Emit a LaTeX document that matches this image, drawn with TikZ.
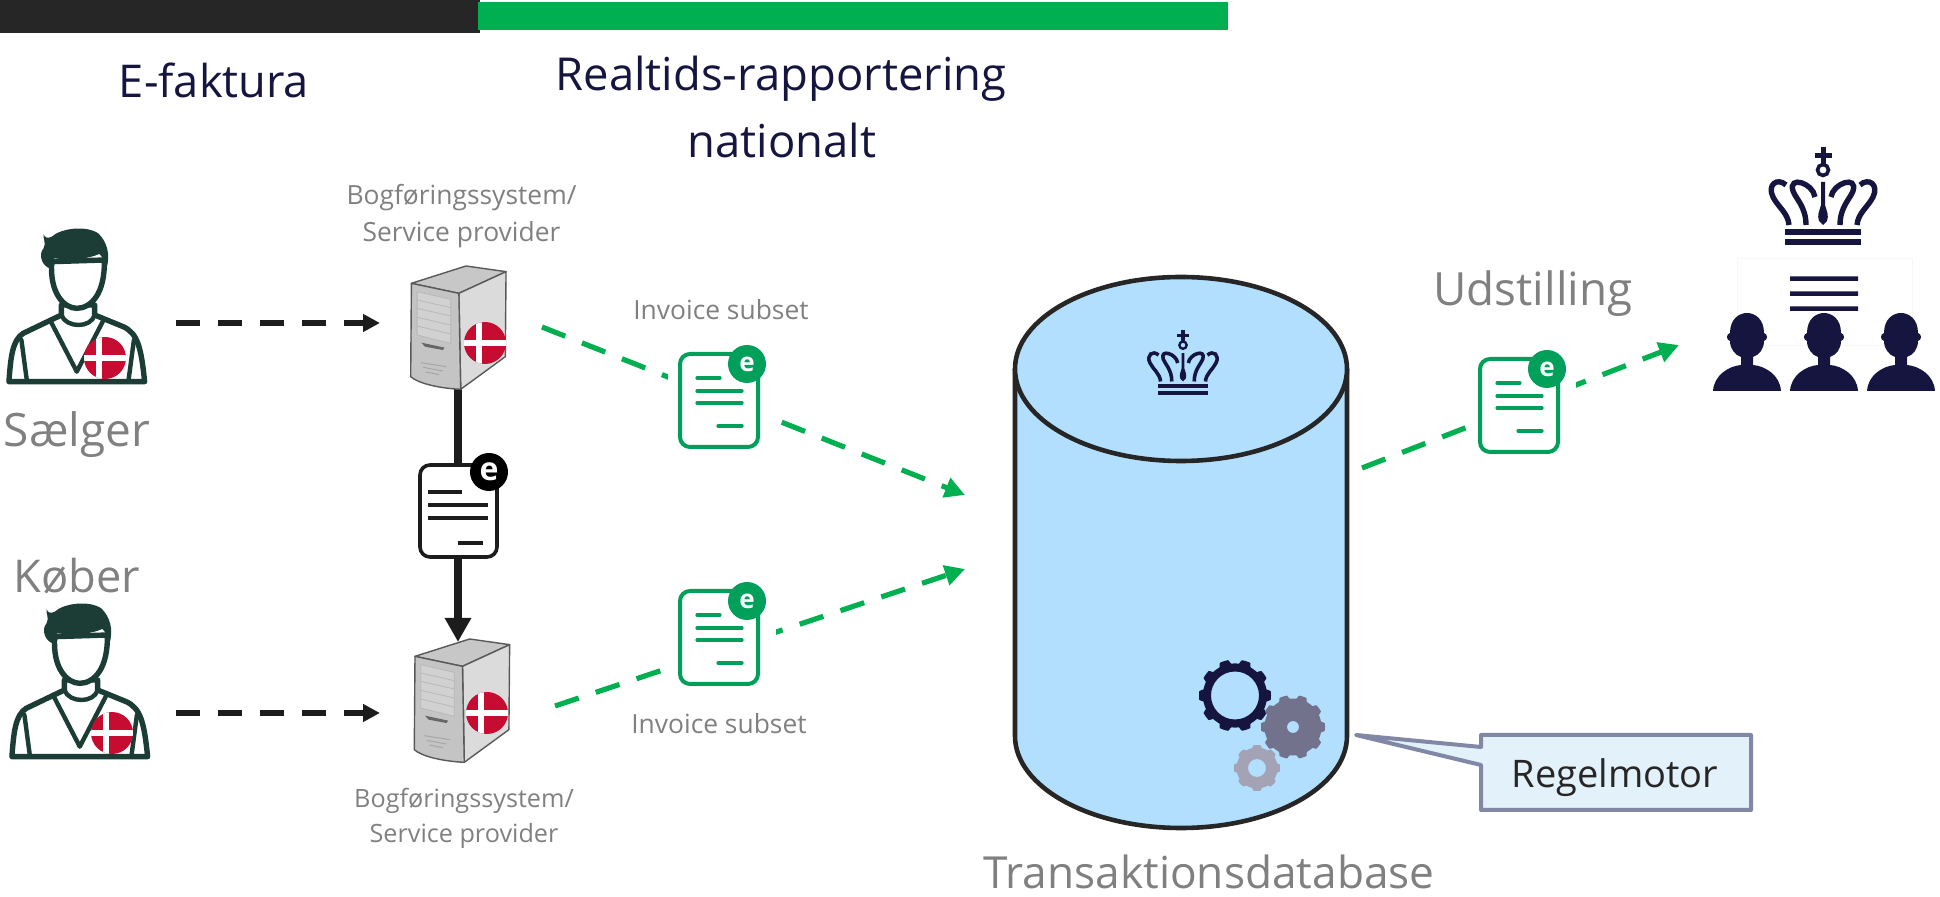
\documentclass[tikz,border=0pt]{standalone}
\usepackage{fontspec}
\setmainfont{Open Sans}
\usetikzlibrary{arrows.meta}
\definecolor{navy}{HTML}{15153F}
\definecolor{lab}{HTML}{808080}
\definecolor{barblack}{HTML}{262626}
\definecolor{arrblack}{HTML}{1C1C1C}
\definecolor{bargreen}{HTML}{00B050}
\definecolor{docgreen}{HTML}{00A05A}
\definecolor{persgreen}{HTML}{1B3D35}
\definecolor{dkred}{HTML}{C60C30}
\definecolor{cyl}{HTML}{B3DFFF}
\definecolor{cally}{HTML}{E3F1FB}
\definecolor{callb}{HTML}{8088A5}
\definecolor{gearmid}{HTML}{72728C}
\definecolor{gearlight}{HTML}{A3A3B5}
\tikzset{
  x=0.5pt,y=-0.5pt,
  big/.style={font=\fontsize{#1}{#1}\selectfont,inner sep=0pt,anchor=center},
  greendash/.style={draw=bargreen,line width=2.6pt,dash pattern=on 12.5pt off 9pt,-{Triangle[length=10pt,width=10pt]}},
  blackdash/.style={draw=arrblack,line width=2.7pt,dash pattern=on 12pt off 9pt,-{Triangle[length=8.5pt,width=8.5pt]}},
}
\newcommand\flagicon[2]{%
  \begin{scope}
    \clip (#1,#2) circle[radius=21];
    \fill[dkred] (#1-22,#2-22) rectangle (#1+22,#2+22);
    \fill[white] (#1-22,#2-2.8) rectangle (#1+22,#2+2.8);
    \fill[white] (#1-9,#2-22) rectangle (#1-3.5,#2+22);
  \end{scope}}
\newcommand\persicon[2]{%
  \begin{scope}[shift={(#1,180+#2)},xscale=1/2.8,yscale=1/3]
    \draw[persgreen,line width=2.7pt,line join=round,fill=white]
      (25,605) .. controls (30,530) and (35,480) .. (65,460)
      -- (172,405) -- (172,375) -- (265,375) -- (265,405)
      -- (345,440) .. controls (385,460) and (395,500) .. (405,605) -- cycle;
    \draw[persgreen,line width=2.7pt,fill=white]
      (145,245) .. controls (138,340) and (180,385) .. (215,385)
      .. controls (255,385) and (295,340) .. (292,240) -- cycle;
    \draw[persgreen,line width=2.2pt,line join=round,line cap=round]
      (140,420) -- (215,575) -- (290,420)
      (172,405) .. controls (185,445) and (255,445) .. (265,405)
      (60,480) -- (75,600) (375,480) -- (360,600);
    \fill[persgreen] (122,162) .. controls (125,175) and (135,175) .. (145,170)
      .. controls (170,145) and (240,135) .. (275,160)
      .. controls (300,185) and (310,225) .. (298,265)
      .. controls (292,240) and (285,228) .. (278,222)
      .. controls (240,240) and (190,240) .. (152,235)
      .. controls (145,245) and (143,255) .. (140,265)
      .. controls (120,260) and (105,225) .. (122,205)
      .. controls (130,190) and (120,175) .. (122,162) -- cycle;
  \end{scope}}
\newcommand\servicon[2]{%
  \begin{scope}[shift={(#1,180+#2)},xscale=1/2.8,yscale=1/3]
    \draw[black!65,line width=0.7pt,line join=round,fill=black!22]
      (1152,310) -- (1305,258) -- (1417,275) -- (1285,340) -- cycle;
    \draw[black!65,line width=0.7pt,line join=round,fill=black!14]
      (1285,340) -- (1417,275) -- (1415,530) -- (1290,628) -- cycle;
    \draw[black!65,line width=0.7pt,line join=round,fill=black!23]
      (1152,310) -- (1285,340) -- (1290,628) .. controls (1230,625) and (1170,610) .. (1150,590) -- cycle;
    \draw[black!28,line width=0.4pt,fill=black!18]
      (1168,335) -- (1262,358) -- (1262,490) -- (1168,465) -- cycle;
    \draw[black!28,line width=0.4pt]
      (1168,360) -- (1262,383) (1168,385) -- (1262,408) (1168,412) -- (1262,435) (1168,438) -- (1262,462);
    \fill[black!60] (1180,488) -- (1245,503) -- (1240,510) -- (1190,500) -- cycle;
    \draw[black!35,line width=0.5pt]
      (1178,548) -- (1250,560) (1185,562) -- (1240,573) (1192,576) -- (1230,584);
  \end{scope}}
\newcommand\gdoc[3]{%
  \fill[white] (#2-12,#3-8) rectangle (#2+96,#3+104);
  \begin{scope}[shift={(#2,#3)}]
    \draw[docgreen,line width=2pt,fill=white,rounded corners=5pt] (0,0) rectangle (78,93);
    \draw[docgreen,line width=1.6pt,line cap=round] (17,24) -- (40,24) (17,37) -- (62,37) (17,49) -- (62,49) (38,72) -- (62,72);
    \node[circle,fill=docgreen,text=white,minimum size=19pt,inner sep=0pt,font=\fontsize{13}{13}\selectfont\bfseries] (#1) at (67,10) {e};
  \end{scope}}
\newcommand\crownicon[4]{% x,y,scale,colour
  \begin{scope}[shift={(#1,#2)},scale=#3]
    \fill[#4] (-2.5,0) rectangle (2.5,17);
    \fill[#4] (-8.5,6) rectangle (8.5,11);
    \draw[#4,line width={#3*1.8pt}] (0,23) circle[radius=5.5];
    \fill[#4] (-2,35) -- (2,35) -- (2,58) .. controls (4,65) and (6,68) .. (4,74) -- (0,78) -- (-4,74) .. controls (-6,68) and (-4,65) .. (-2,58) -- cycle;
    \foreach \s in {1,-1}{
      \draw[#4,line width={#3*2.7pt}]
        (\s*8,50) .. controls (\s*10,36) and (\s*35,28) .. (\s*30,44)
        .. controls (\s*27,52) and (\s*17,60) .. (\s*17,78);
      \draw[#4,line width={#3*2.7pt}]
        (\s*37,38) .. controls (\s*46,30) and (\s*56,38) .. (\s*50,50)
        .. controls (\s*45,60) and (\s*35,66) .. (\s*34,78);
    }
    \fill[#4] (-38,82) rectangle (38,88);
    \fill[#4] (-38,92) rectangle (38,98);
  \end{scope}}
\newcommand\headicon[2]{%
  \begin{scope}[shift={(#1,#2)}]
    \fill[navy] (-34,78) .. controls (-33,62) and (-18,53) .. (-6,52) -- (-6,44)
      .. controls (-12,42) and (-17,36) .. (-17,28) .. controls (-21,27) and (-21,21) .. (-17,20)
      .. controls (-17,6) and (-8,0) .. (0,0) .. controls (8,0) and (17,6) .. (17,20)
      .. controls (21,21) and (21,27) .. (17,28) .. controls (17,36) and (12,42) .. (6,44) -- (6,52)
      .. controls (18,53) and (33,62) .. (34,78) -- cycle;
  \end{scope}}
\newcommand\gearicon[6]{% cx,cy,R,hole,teeth,colour
  \fill[#6,even odd rule] plot[domain=0:360,samples=240]
    ({#1+(#3-0.11*#3+0.11*#3*max(0,min(1,0.5+1.6*cos(#5*\x))))*cos(\x)},
     {#2+(#3-0.11*#3+0.11*#3*max(0,min(1,0.5+1.6*cos(#5*\x))))*sin(\x)}) -- cycle
    (#1,#2) circle[radius=#4];}
\begin{document}
\begin{tikzpicture}
\useasboundingbox (0,0) rectangle (1940,897);
% top bars
\fill[barblack] (0,0) rectangle (480,33);
\fill[bargreen] (478,2) rectangle (1228,30);
\node[big=22.6,text=navy] (efak) at (214,80) {E-faktura};
\node[big=22.7,text=navy] (rt1) at (781,79) {Realtids-rapportering};
\node[big=22.7,text=navy] (rt2) at (782,140) {nationalt};
% persons
\persicon{0}{0}
\flagicon{105}{358}
\persicon{3}{375}
\flagicon{112}{733}
\node[big=23,text=lab] (saelger) at (77,435) {Sælger};
\node[big=22.6,text=lab] (koeber) at (77,576) {Køber};
% connector end coordinates
\coordinate (sellerR) at (176,323);
\coordinate (srv1L) at (380,323);
\coordinate (buyerR) at (176,713);
\coordinate (srv2L) at (380,713);
\coordinate (srv1B) at (458,387);
\coordinate (srv2T) at (458,642);
\coordinate (g1s) at (542,327);
\coordinate (g1e) at (965,495);
\coordinate (g2s) at (555,706);
\coordinate (g2e) at (965,569);
\coordinate (g3s) at (1362,468);
\coordinate (g3e) at (1679,345);
\draw[blackdash] (sellerR) -- (srv1L);
\draw[blackdash] (buyerR) -- (srv2L);
\draw[greendash] (g1s) -- (g1e);
\draw[greendash] (g2s) -- (g2e);
\draw[greendash] (g3s) -- (g3e);
\draw[arrblack,line width=4pt,-{Triangle[length=12pt,width=12.5pt]}] (srv1B) -- (srv2T);
% servers
\servicon{0}{0}
\flagicon{485}{343}
\servicon{3.6}{373}
\flagicon{487}{713}
\node[big=13.2,text=lab] (bf1) at (461.5,198) {Bogføringssystem/};
\node[big=13.2,text=lab] (sp1) at (461.5,235) {Service provider};
\node[big=12.6,text=lab] (bf2) at (464,801) {Bogføringssystem/};
\node[big=12.6,text=lab] (sp2) at (464,836) {Service provider};
% documents
\begin{scope}[shift={(420,465)}]
  \draw[arrblack,line width=1.8pt,fill=white,rounded corners=5pt] (0,0) rectangle (77,92);
  \draw[arrblack,line width=1.7pt] (8,27) -- (42,27) (8,40) -- (68,40) (8,53) -- (68,53) (38,78) -- (63,78);
  \node[circle,fill=black,text=white,minimum size=19pt,inner sep=0pt,font=\fontsize{16}{16}\selectfont\bfseries] (badge0) at (69,7) {e};
\end{scope}
\gdoc{badge1}{680}{354}
\gdoc{badge2}{680}{591}
\gdoc{badge3}{1480}{359}
\node[big=13.2,text=lab] (inv1) at (721,310) {Invoice subset};
\node[big=13.2,text=lab] (inv2) at (719,724) {Invoice subset};
% cylinder
\draw[barblack,line width=2.3pt,fill=cyl] (1015,369) -- (1015,736) arc[start angle=180,end angle=0,x radius=166,y radius=92] -- (1347,369);
\draw[barblack,line width=2.3pt,fill=cyl] (1181,369) ellipse[x radius=166,y radius=92];
\crownicon{1183}{330}{0.66}{navy}
\gearicon{1235}{695.5}{36}{24}{10}{navy}
\gearicon{1293}{727}{32}{6}{10}{gearmid}
\gearicon{1257}{768}{23}{9}{8}{gearlight}
\node[big=22.1,text=lab,text depth=0pt] (db) at (1209,872) {Transaktionsdatabase};
% callout
\coordinate (calltip) at (1356,735);
\draw[callb,line width=2pt,fill=cally,line join=round]
  (1481,747) -- (calltip) -- (1481,765) -- (1481,810) -- (1751,810) -- (1751,735) -- (1481,735) -- cycle;
\node[big=19,text=black!85] (regel) at (1615,778) {Regelmotor};
% right side
\node[big=22.9,text=lab] (udst) at (1533,294) {Udstilling};
\crownicon{1823}{147}{1}{navy}
\draw[black!3,line width=0.4pt] (1737,258) rectangle (1912,345);
\fill[navy] (1790,276.5) rectangle (1858,281) (1790,291.5) rectangle (1858,296) (1790,306.5) rectangle (1858,311);
\headicon{1747}{313}
\headicon{1824}{313}
\headicon{1901}{313}
\end{tikzpicture}
\end{document}
